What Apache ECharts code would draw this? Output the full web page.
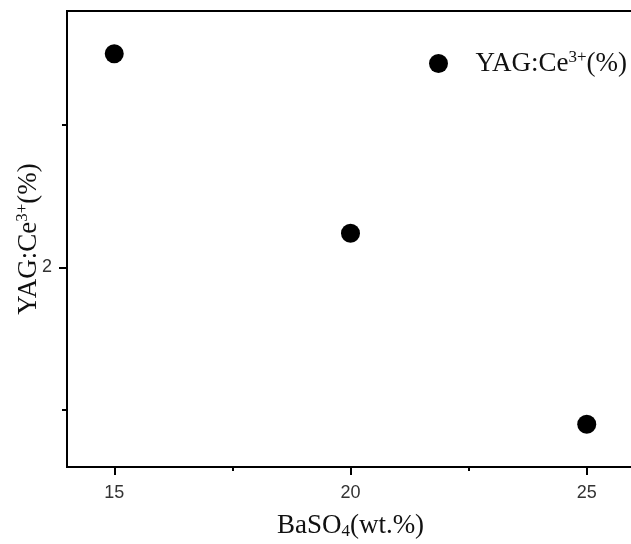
<!DOCTYPE html>
<html><head><meta charset="utf-8">
<script src="https://cdn.jsdelivr.net/npm/echarts@6/dist/echarts.min.js"></script>
<style>html,body{margin:0;padding:0;background:#fff}#c{width:631px;height:544px}</style>
</head><body><div id="c"></div>
<script>
const xValues = [15, 20, 25];
const yValues = [2.75, 2.12, 1.45];
const xMajorTicks = [15, 20, 25];
const xMinorTicks = [17.5, 22.5];
const yMajorTicks = [2];
const yMinorTicks = [1.5, 2.5];
const seriesName = 'YAG:Ce3+(%)';

const chart = echarts.init(document.getElementById('c'), null, {renderer: 'canvas'});
const serif = '"Liberation Serif", "DejaVu Serif", serif';
const sans = '"Liberation Sans", Arial, sans-serif';
const supRich = {
  base: {fontFamily: serif, fontSize: 27, color: '#111'},
  sup: {fontFamily: serif, fontSize: 17, color: '#111', verticalAlign: 'top', padding: [0, 0, 12, 0]},
  sub: {fontFamily: serif, fontSize: 17, color: '#111', padding: [12, 0, 0, 0]}
};
const xMin = 14, xMax = 26, yMin = 1.3, yMax = 2.9;
const tickAxis = (vals, len) => ({
  type: 'value', gridIndex: 0,
  axisLine: {show: true, onZero: false, lineStyle: {color: '#000', width: 2}},
  axisTick: {show: true, length: len, lineStyle: {color: '#000', width: 2}, customValues: vals},
  axisLabel: {show: false}, splitLine: {show: false}
});
chart.setOption({
  animation: false,
  backgroundColor: '#fff',
  grid: {left: 67, top: 11, right: -3, bottom: 77, show: true, borderColor: '#000', borderWidth: 2,
         containLabel: false, outerBoundsMode: 'none'},
  legend: {
    left: 424, top: 44,
    itemWidth: 64, itemHeight: 19, itemGap: 0,
    data: [{name: seriesName, icon: 'circle', itemStyle: {color: '#000', opacity: 1}}],
    formatter: () => '{base|YAG:Ce}{sup|3+}{base|(%)}',
    textStyle: {rich: supRich}
  },
  xAxis: [{
    type: 'value', min: xMin, max: xMax, position: 'bottom',
    axisLine: {show: true, onZero: false, lineStyle: {color: '#000', width: 2}},
    axisTick: {show: false},
    axisLabel: {show: true, margin: 17, fontFamily: sans, fontSize: 18, color: '#333', customValues: xMajorTicks},
    splitLine: {show: false},
    name: '{base|BaSO}{sub|4}{base|(wt.%)}', nameLocation: 'middle', nameGap: 44, nameMoveOverlap: false,
    nameTextStyle: {rich: supRich}
  },
  Object.assign(tickAxis(xMajorTicks, 8), {min: xMin, max: xMax, position: 'bottom'}),
  Object.assign(tickAxis(xMinorTicks, 4), {min: xMin, max: xMax, position: 'bottom'})
  ],
  yAxis: [{
    type: 'value', min: yMin, max: yMax, position: 'left',
    axisLine: {show: true, onZero: false, lineStyle: {color: '#000', width: 2}},
    axisTick: {show: false},
    axisLabel: {show: true, margin: 15, fontFamily: sans, fontSize: 18, color: '#333', customValues: yMajorTicks},
    splitLine: {show: false},
    name: '{base|YAG:Ce}{sup|3+}{base|(%)}', nameLocation: 'middle', nameGap: 24, nameRotate: 90,
    nameMoveOverlap: false,
    nameTextStyle: {rich: supRich}
  },
  Object.assign(tickAxis(yMajorTicks, 8), {min: yMin, max: yMax, position: 'left'}),
  Object.assign(tickAxis(yMinorTicks, 5), {min: yMin, max: yMax, position: 'left'})
  ],
  series: [{
    name: seriesName, type: 'scatter', symbol: 'circle', symbolSize: 19,
    itemStyle: {color: '#000', opacity: 1},
    data: xValues.map((x, i) => [x, yValues[i]])
  }]
});
</script></body></html>
